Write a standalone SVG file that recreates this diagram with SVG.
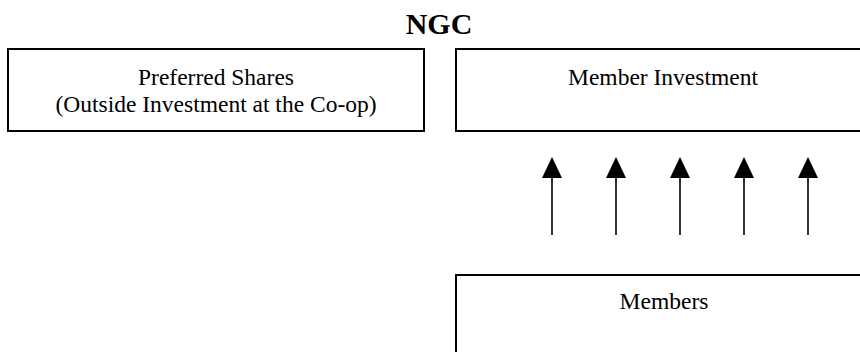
<svg xmlns="http://www.w3.org/2000/svg" width="860" height="352" viewBox="0 0 860 352">
<defs>
<style>
.box{fill:#fff;stroke:#000;stroke-width:2}
.t{font-family:"Liberation Serif","Times New Roman",serif;font-size:23.5px;fill:#000;text-anchor:middle}
.title{font-family:"Liberation Serif","Times New Roman",serif;font-size:30px;font-weight:bold;fill:#000;text-anchor:middle}
.ln{stroke:#000;stroke-width:1.6;fill:none}
.hd{fill:#000}
</style>
</defs>
<rect width="860" height="352" fill="#fff"/>
<text class="title" x="439" y="34">NGC</text>
<g id="preferred">
<rect class="box" x="8" y="49" width="416" height="82"/>
<text class="t" x="216" y="85">Preferred Shares</text>
<text class="t" x="216" y="112">(Outside Investment at the Co-op)</text>
</g>
<g id="member-investment">
<rect class="box" x="456" y="49" width="414" height="82"/>
<text class="t" x="663" y="85">Member Investment</text>
</g>
<g id="members">
<rect class="box" x="456" y="275" width="414" height="90"/>
<text class="t" x="664" y="309">Members</text>
</g>
<g id="connectors">
<path class="ln" d="M552,235 V177"/>
<path class="ln" d="M616,235 V177"/>
<path class="ln" d="M680,235 V177"/>
<path class="ln" d="M744,235 V177"/>
<path class="ln" d="M808,235 V177"/>
<path class="hd" d="M552,157 L542,178 L562,178 Z"/>
<path class="hd" d="M616,157 L606,178 L626,178 Z"/>
<path class="hd" d="M680,157 L670,178 L690,178 Z"/>
<path class="hd" d="M744,157 L734,178 L754,178 Z"/>
<path class="hd" d="M808,157 L798,178 L818,178 Z"/>
</g>
</svg>
